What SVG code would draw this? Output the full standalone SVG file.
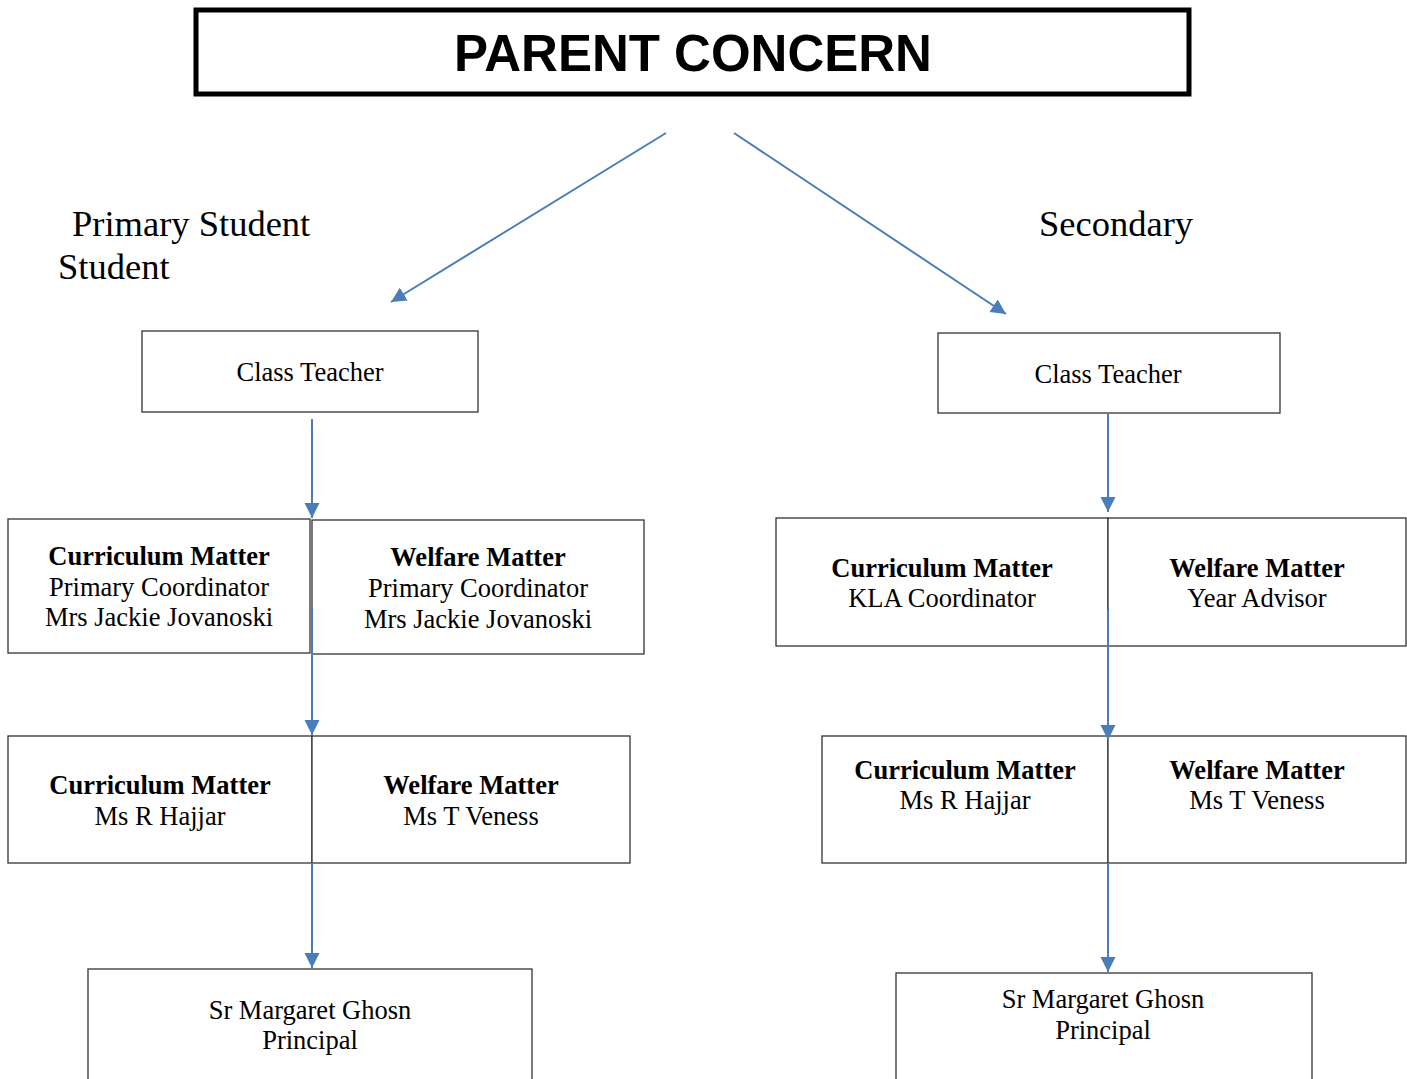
<svg xmlns="http://www.w3.org/2000/svg" width="1407" height="1079" viewBox="0 0 1407 1079">
<style>
.box{fill:#fff;stroke:#333;stroke-width:1.3}
.t{font-family:"Liberation Serif","Times New Roman",serif;font-size:26.5px;fill:#000;text-anchor:middle}
.b{font-weight:bold}
.lbl{font-family:"Liberation Serif","Times New Roman",serif;font-size:36.5px;fill:#000}
.c{stroke:#4a7ebb;stroke-width:2;fill:none;marker-end:url(#ah)}
</style>
<defs>
<marker id="ah" viewBox="0 0 10 10" refX="10" refY="5" markerWidth="7.5" markerHeight="8" markerUnits="strokeWidth" orient="auto">
<path d="M0,0 L10,5 L0,10 z" fill="#4a7ebb"/>
</marker>
</defs>
<rect width="1407" height="1079" fill="#fff"/>
<g id="title">
<rect x="196" y="10" width="993" height="84" fill="#fff" stroke="#000" stroke-width="5"/>
<text x="693" y="71" font-family="Liberation Sans,Arial,sans-serif" font-weight="bold" font-size="51" text-anchor="middle">PARENT CONCERN</text>
</g>
<g id="label-primary">
<text class="lbl" x="72" y="236">Primary Student</text>
<text class="lbl" x="58" y="279">Student</text>
</g>
<g id="label-secondary">
<text class="lbl" x="1039" y="236">Secondary</text>
</g>
<g id="p-class">
<rect class="box" x="142" y="331" width="336" height="81"/>
<text class="t" x="310" y="381">Class Teacher</text>
</g>
<g id="s-class">
<rect class="box" x="938" y="333" width="342" height="80"/>
<text class="t" x="1108" y="383">Class Teacher</text>
</g>
<g id="p-curr1">
<rect class="box" x="8" y="519" width="302" height="134"/>
<text class="t b" x="159" y="565">Curriculum Matter</text>
<text class="t" x="159" y="596">Primary Coordinator</text>
<text class="t" x="159" y="626">Mrs Jackie Jovanoski</text>
</g>
<g id="p-welf1">
<rect class="box" x="312" y="520" width="332" height="134"/>
<text class="t b" x="478" y="566">Welfare Matter</text>
<text class="t" x="478" y="597">Primary Coordinator</text>
<text class="t" x="478" y="628">Mrs Jackie Jovanoski</text>
</g>
<g id="p-curr2">
<rect class="box" x="8" y="736" width="304" height="127"/>
<text class="t b" x="160" y="794">Curriculum Matter</text>
<text class="t" x="160" y="825">Ms R Hajjar</text>
</g>
<g id="p-welf2">
<rect class="box" x="312" y="736" width="318" height="127"/>
<text class="t b" x="471" y="794">Welfare Matter</text>
<text class="t" x="471" y="825">Ms T Veness</text>
</g>
<g id="p-principal">
<rect class="box" x="88" y="969" width="444" height="115"/>
<text class="t" x="310" y="1019">Sr Margaret Ghosn</text>
<text class="t" x="310" y="1049">Principal</text>
</g>
<g id="s-curr1">
<rect class="box" x="776" y="518" width="332" height="128"/>
<text class="t b" x="942" y="577">Curriculum Matter</text>
<text class="t" x="942" y="607">KLA Coordinator</text>
</g>
<g id="s-welf1">
<rect class="box" x="1108" y="518" width="298" height="128"/>
<text class="t b" x="1257" y="577">Welfare Matter</text>
<text class="t" x="1257" y="607">Year Advisor</text>
</g>
<g id="s-curr2">
<rect class="box" x="822" y="736" width="286" height="127"/>
<text class="t b" x="965" y="779">Curriculum Matter</text>
<text class="t" x="965" y="809">Ms R Hajjar</text>
</g>
<g id="s-welf2">
<rect class="box" x="1108" y="736" width="298" height="127"/>
<text class="t b" x="1257" y="779">Welfare Matter</text>
<text class="t" x="1257" y="809">Ms T Veness</text>
</g>
<g id="s-principal">
<rect class="box" x="896" y="973" width="416" height="115"/>
<text class="t" x="1103" y="1008">Sr Margaret Ghosn</text>
<text class="t" x="1103" y="1039">Principal</text>
</g>
<g id="connectors">
<line class="c" x1="666" y1="133" x2="391" y2="302"/>
<line class="c" x1="734" y1="133" x2="1006" y2="314"/>
<line class="c" x1="312" y1="419" x2="312" y2="518"/>
<line class="c" x1="312" y1="608" x2="312" y2="735"/>
<line class="c" x1="312" y1="863" x2="312" y2="968"/>
<line class="c" x1="1108" y1="413" x2="1108" y2="512"/>
<line class="c" x1="1108" y1="610" x2="1108" y2="740"/>
<line class="c" x1="1108" y1="863" x2="1108" y2="972"/>
</g>
</svg>
